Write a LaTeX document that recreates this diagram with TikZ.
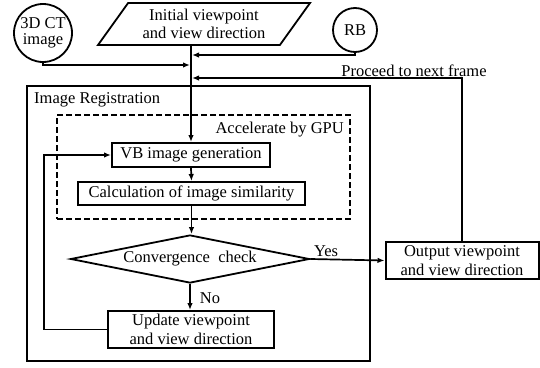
\documentclass[tikz,border=0pt]{standalone}
\usepackage{fontspec}
\setmainfont{Liberation Serif}
\usetikzlibrary{shapes.geometric,arrows.meta,calc}
\begin{document}
\begin{tikzpicture}[x=1pt,y=-1pt,
  every node/.style={font=\fontsize{16.5}{18.5}\selectfont, inner sep=0pt},
  box/.style={draw, line width=2pt, align=center},
  circ/.style={draw, circle, line width=1.8pt, align=center},
  conn/.style={line width=1.7pt},
  arr/.style={conn, -{Latex[length=7pt,width=5.5pt]}},
  lbl/.style={}]
\useasboundingbox (0,0) rectangle (540,367);
% outer region boxes
\node[draw, line width=2pt, minimum width=343pt, minimum height=275pt] (reg) at (198.5,223.5) {};
\node[anchor=west] (reglbl) at (34,100) {Image Registration};
\node[draw, dashed, dash pattern=on 6pt off 3pt, line width=2pt, minimum width=293pt, minimum height=104pt] (gpu) at (203.5,167) {};
\node[anchor=east] (gpulbl) at (344,130) {Accelerate by GPU};
% top inputs
\node[circ, minimum size=58pt] (ct) at (43,33) {3D CT\\[-2pt]image};
\node[draw, line width=1.8pt, trapezium, trapezium left angle=45, trapezium right angle=135,
      trapezium stretches body, minimum width=212pt, minimum height=42pt, align=center] (init) at (204,24) {Initial viewpoint\\and view direction};
\node[circ, minimum size=44pt] (rb) at (355,30) {RB};
% process nodes
\node[box, minimum width=158pt, minimum height=24pt] (vb) at (191,155) {VB image generation};
\node[box, minimum width=227pt, minimum height=23pt] (calc) at (191.5,193.5) {Calculation of image similarity};
\node[draw, diamond, line width=1.8pt, minimum width=239pt, minimum height=48pt, shape aspect=5] (conv) at (190,259) {Convergence\ \ check};
\node[box, minimum width=166pt, minimum height=37pt] (upd) at (191,329.5) {Update viewpoint\\and view direction};
\node[box, minimum width=153pt, minimum height=37pt] (out) at (462,260.5) {Output viewpoint\\and view direction};
% labels
\node (yes) at (326,251) {Yes};
\node (no) at (210,298) {No};
\node (proc) at (414,71) {Proceed to next frame};
% connectors
\coordinate (mainx) at (191,0);
\draw[arr] (init.south -| vb.north) -- (vb.north);
\draw[arr] (ct.south) -- (ct.south |- 0,65) -- ($(mainx |- 0,65)+(-1,0)$);
\draw[arr] (rb.south) -- (rb.south |- 0,55) -- ($(mainx |- 0,55)+(1,0)$);
\draw[arr] (out.north) -- (out.north |- 0,78) -- ($(mainx |- 0,78)+(1,0)$);
\draw[arr] (vb.south) -- (calc.north);
\draw[arr] (calc.south) -- (calc.south |- conv.north);
\draw[arr] (conv.south) -- (conv.south |- upd.north);
\draw[arr] (conv.east) -- (out.west);
\draw[arr] (upd.west) -- (44,329.5) -- (44,155) -- (vb.west);
\end{tikzpicture}
\end{document}
